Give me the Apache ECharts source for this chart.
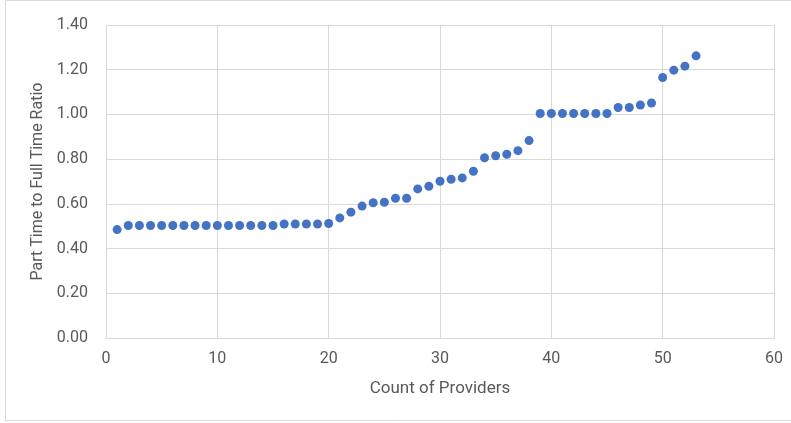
<!DOCTYPE html>
<html><head><meta charset="utf-8">
<script src="https://cdn.jsdelivr.net/npm/echarts@6/dist/echarts.min.js"></script>
<style>html,body{margin:0;padding:0;background:#fff}#c{width:791px;height:423px}</style>
</head><body><div id="c"></div>
<script>
const providers = [1,2,3,4,5,6,7,8,9,10,11,12,13,14,15,16,17,18,19,20,21,22,23,24,25,26,27,28,29,30,31,32,33,34,35,36,37,38,39,40,41,42,43,44,45,46,47,48,49,50,51,52,53];
const ratios = [0.485,0.503,0.503,0.503,0.503,0.503,0.503,0.503,0.503,0.503,0.503,0.503,0.503,0.503,0.503,0.51,0.51,0.51,0.51,0.512,0.537,0.563,0.59,0.605,0.607,0.625,0.625,0.667,0.679,0.701,0.71,0.716,0.746,0.806,0.815,0.822,0.838,0.883,1.004,1.004,1.004,1.004,1.004,1.004,1.004,1.031,1.031,1.042,1.051,1.165,1.198,1.216,1.262];
const xTitle = 'Count of Providers';
const yTitle = 'Part Time to Full Time Ratio';
const chart = echarts.init(document.getElementById('c'));
const txt = '#595959';
const font = 'Roboto, sans-serif';
chart.setOption({
  animation:false,
  textStyle:{fontFamily:font},
  graphic:[{type:'rect',shape:{x:5.5,y:0.5,width:800,height:420},style:{fill:'none',stroke:'#d9d9d9',lineWidth:1},silent:true}],
  grid:{left:106,right:17,top:25,bottom:85},
  xAxis:{type:'value',min:0,max:60,interval:10,name:xTitle,nameLocation:'middle',nameGap:42,
    nameTextStyle:{color:txt,fontSize:17,fontFamily:font},
    axisLine:{lineStyle:{color:'#d9d9d9'}},axisTick:{show:false},
    axisLabel:{color:txt,fontSize:16,margin:13,fontFamily:font},
    splitLine:{lineStyle:{color:'#d9d9d9'}}},
  yAxis:{type:'value',min:0,max:1.4,interval:0.2,name:yTitle,nameLocation:'middle',nameGap:54,
    nameTextStyle:{color:txt,fontSize:16,fontFamily:font},
    axisLine:{show:false},axisTick:{show:false},
    axisLabel:{color:txt,fontSize:16,margin:18,fontFamily:font,formatter:v=>v.toFixed(2)},
    splitLine:{lineStyle:{color:'#d9d9d9'}}},
  series:[{type:'scatter',data:providers.map((x,i)=>[x,ratios[i]]),symbolSize:9,
    itemStyle:{color:'#4472C4',opacity:1}}]
});
</script></body></html>
